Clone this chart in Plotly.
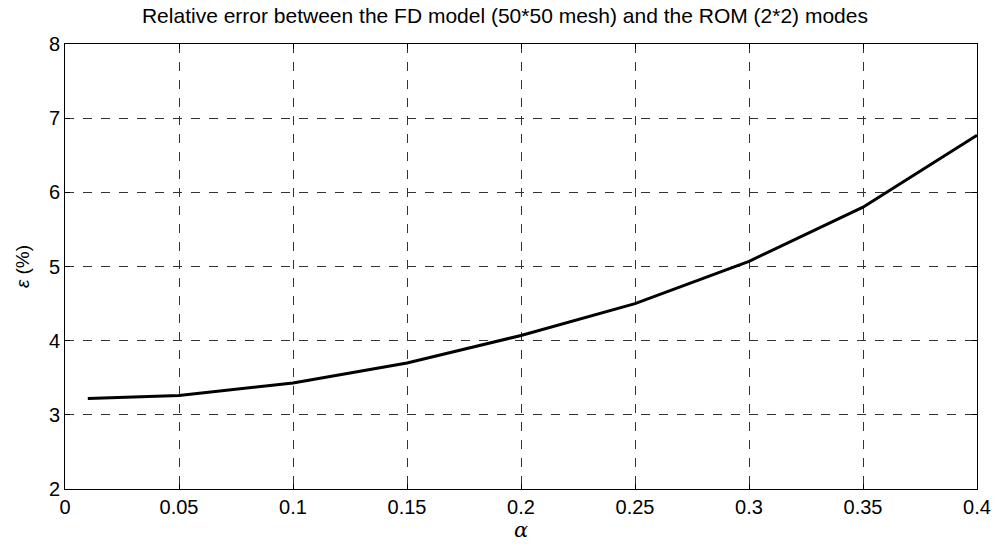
import plotly.graph_objects as go

alpha = [0.01, 0.05, 0.1, 0.15, 0.2, 0.25, 0.3, 0.35, 0.4]
rel_error = [3.22, 3.26, 3.43, 3.70, 4.07, 4.50, 5.07, 5.80, 6.77]
x_ticks = [0, 0.05, 0.1, 0.15, 0.2, 0.25, 0.3, 0.35, 0.4]
x_ticktext = ["0", "0.05", "0.1", "0.15", "0.2", "0.25", "0.3", "0.35", "0.4"]

fig = go.Figure()
fig.add_trace(go.Scatter(x=alpha, y=rel_error, mode="lines",
                         line=dict(color="black", width=3)))

axis_style = dict(showline=True, linecolor="black", linewidth=1, mirror="ticks",
                  ticks="inside", ticklen=5, tickcolor="black", automargin=False,
                  showgrid=True, gridcolor="#333333", griddash="dash", gridwidth=1,
                  zeroline=False, tickfont=dict(size=20, color="black"))

fig.update_xaxes(range=[0, 0.4], tickvals=x_ticks, ticktext=x_ticktext,
                 title=dict(text="<i>α</i>", font=dict(size=21, family="DejaVu Serif"), standoff=4),
                 **axis_style)
fig.update_yaxes(range=[2, 8], dtick=1,
                 title=dict(text="<i>ε</i> (%)", font=dict(size=19), standoff=14),
                 **axis_style)

fig.update_layout(
    width=994, height=552,
    margin=dict(l=65, r=17, t=44, b=63),
    paper_bgcolor="white", plot_bgcolor="white",
    showlegend=False,
    font=dict(family="Liberation Sans, Arial", color="black"),
    title=dict(text="Relative error between the FD model (50*50 mesh) and the ROM (2*2) modes",
               x=0.508, xanchor="center", y=0.972, yanchor="middle", font=dict(size=21)),
)

# drop the browser's default body margin so the figure sits at the page corner
fig.write_html("out.html", config={"displayModeBar": False},
               post_script="document.body.style.margin='0';")
